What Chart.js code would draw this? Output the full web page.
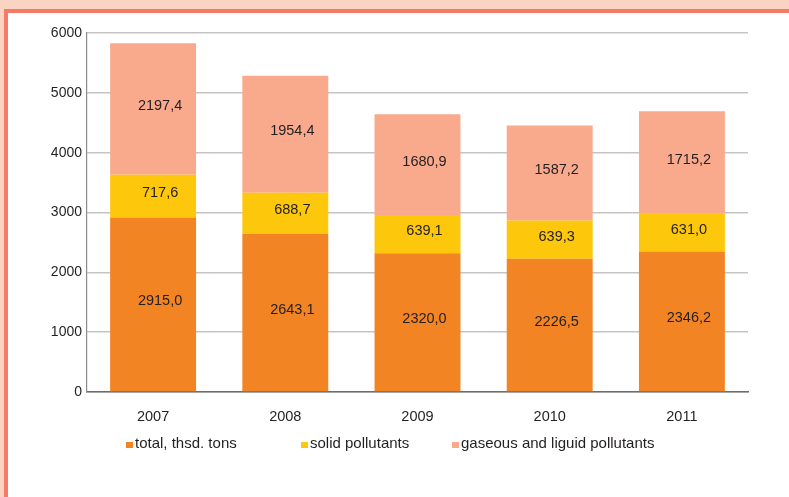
<!DOCTYPE html>
<html>
<head>
<meta charset="utf-8">
<script src="https://cdn.jsdelivr.net/npm/chart.js@4.4.1/dist/chart.umd.min.js"></script>
<style>
    html, body { margin: 0; padding: 0; background: #fbd3c2; }
    .page { position: relative; width: 789px; height: 497px; overflow: hidden; background: #fbd3c2; }
    .panel { position: absolute; left: 4px; top: 9px; right: -10px; bottom: -10px; background: #fff;
        border-left: 4px solid #f47b66; border-top: 4px solid #f47b66; }
    #chart { position: absolute; left: 0; top: 0; }
    .legend_item { position: absolute; top: 435px; font: 15px "Liberation Sans", Arial, sans-serif; color: #231f20; line-height: 15px; white-space: nowrap; }
    .legend_box { position: absolute; top: 442px; width: 7px; height: 6px; }
</style>
</head>
<body>
<div class="page">
    <div class="panel"></div>
    <canvas id="chart" width="789" height="497"></canvas>
    <div id="legend"></div>
</div>
<script>
const years = ['2007', '2008', '2009', '2010', '2011'];
const totalTons = [2915.0, 2643.1, 2320.0, 2226.5, 2346.2];
const solidPollutants = [717.6, 688.7, 639.1, 639.3, 631.0];
const gaseousPollutants = [2197.4, 1954.4, 1680.9, 1587.2, 1715.2];
const yTicks = [0, 1000, 2000, 3000, 4000, 5000, 6000];

const seriesNames = ['total, thsd. tons', 'solid pollutants', 'gaseous and liguid pollutants'];
const seriesColors = ['#f28424', '#fdc70c', '#f9aa8d'];
const legendX = [126, 301, 452];

const FONT = '"Liberation Sans", Arial, sans-serif';

// labels in the middle of every segment, comma as decimal mark
const valueLabels = {
    id: 'valueLabels',
    afterDatasetsDraw(chart) {
        const ctx = chart.ctx;
        ctx.save();
        ctx.font = '14.5px ' + FONT;
        ctx.fillStyle = '#231f20';
        ctx.textAlign = 'center';
        ctx.textBaseline = 'middle';
        chart.data.datasets.forEach((ds, i) => {
            chart.getDatasetMeta(i).data.forEach((bar, j) => {
                const txt = ds.data[j].toFixed(1).replace('.', ',');
                const midY = (bar.y + bar.base) / 2;
                ctx.fillText(txt, bar.x + 7, midY - 3);
            });
        });
        ctx.restore();
    }
};

const ctx = document.getElementById('chart').getContext('2d');
new Chart(ctx, {
    type: 'bar',
    data: {
        labels: years,
        datasets: [
            { label: seriesNames[0], data: totalTons, backgroundColor: seriesColors[0] },
            { label: seriesNames[1], data: solidPollutants, backgroundColor: seriesColors[1] },
            { label: seriesNames[2], data: gaseousPollutants, backgroundColor: seriesColors[2] },
        ]
    },
    options: {
        responsive: false,
        animation: false,
        layout: { padding: { left: 0, right: 41, top: 33, bottom: 0 } },
        datasets: { bar: { categoryPercentage: 1, barPercentage: 0.65 } },
        plugins: { legend: { display: false }, tooltip: { enabled: false } },
        scales: {
            x: {
                stacked: true,
                grid: { display: false },
                border: { color: '#6d6d6d', width: 1.5 },
                ticks: { color: '#231f20', font: { family: FONT, size: 14.5 }, padding: 8 },
                afterFit: (s) => { s.height = 105; }
            },
            y: {
                stacked: true,
                min: yTicks[0],
                max: yTicks[yTicks.length - 1],
                afterBuildTicks: (s) => { s.ticks = yTicks.map(v => ({ value: v })); },
                grid: { color: '#c4c4c4', lineWidth: 1.5, drawTicks: false },
                border: { color: '#8a8a8a', width: 1.2 },
                ticks: {
                    color: '#231f20',
                    font: { family: FONT, size: 14 },
                    padding: 5,
                    callback: (value) => String(value)
                },
                afterFit: (s) => { s.width = 87; }
            }
        }
    },
    plugins: [valueLabels]
});

// legend as html text
const legend = document.getElementById('legend');
seriesNames.forEach((name, i) => {
    const box = document.createElement('div');
    box.className = 'legend_box';
    box.style.left = legendX[i] + 'px';
    box.style.background = seriesColors[i];
    legend.appendChild(box);
    const txt = document.createElement('div');
    txt.className = 'legend_item';
    txt.style.left = (legendX[i] + 9) + 'px';
    txt.textContent = name;
    legend.appendChild(txt);
});
</script>
</body>
</html>
